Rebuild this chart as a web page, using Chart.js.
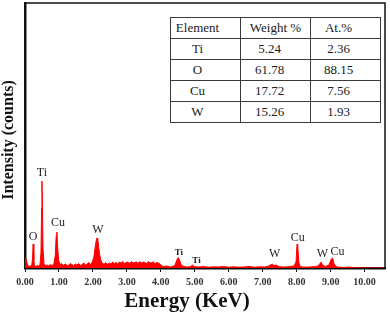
<!DOCTYPE html>
<html>
<head>
<meta charset="utf-8">
<script src="https://cdn.jsdelivr.net/npm/chart.js@4/dist/chart.umd.min.js"></script>
<style>
  body { margin: 0; background: #fff; }
  #wrap { position: relative; width: 390px; height: 316px; }
  table {
    position: absolute; left: 170px; top: 17px;
    border-collapse: collapse;
    font-family: "Liberation Serif", "DejaVu Serif", serif;
    font-size: 13px; color: #1a1a1a; background: #fff;
  }
  td { border: 1.5px solid #3a3a3a; height: 21px; padding: 0; text-align: center; }
  td.c1 { width: 70px; padding-right: 16px; box-sizing: border-box; }
  td.c2 { width: 70px; padding-right: 12px; box-sizing: border-box; }
  td.c3 { width: 70px; padding-right: 14px; box-sizing: border-box; }
  tr.head td.c2 { padding-right: 0; }
</style>
</head>
<body>
<div id="wrap">
  <canvas id="chart" width="390" height="316"></canvas>
  <table id="tbl"></table>
</div>
<script>
// EDS spectrum, energy in keV and intensity in counts
const energy = [0, 0.02, 0.05, 0.08, 0.12, 0.16, 0.20, 0.22, 0.24, 0.26, 0.28, 0.32, 0.36, 0.40, 0.44,
  0.47, 0.49, 0.50, 0.51, 0.53, 0.56, 0.60, 0.65, 0.70, 0.75, 0.80, 0.85, 0.89, 0.92, 0.94, 0.96, 0.99,
  1.03, 1.08, 1.13, 1.18, 1.23, 1.28, 1.33, 1.38, 1.43, 1.48, 1.53, 1.58, 1.63, 1.68, 1.73, 1.78, 1.83,
  1.88, 1.93, 1.98, 2.03, 2.07, 2.10, 2.12, 2.14, 2.16, 2.19, 2.23, 2.28, 2.33, 2.38, 2.43, 2.48, 2.53,
  2.58, 2.63, 2.68, 2.73, 2.78, 2.83, 2.88, 2.93, 2.98, 3.03, 3.08, 3.13, 3.18, 3.23, 3.28, 3.33, 3.38,
  3.43, 3.48, 3.53, 3.58, 3.63, 3.68, 3.73, 3.78, 3.83, 3.88, 3.93, 3.98, 4.03, 4.10, 4.18, 4.26, 4.34,
  4.42, 4.47, 4.51, 4.55, 4.60, 4.68, 4.78, 4.88, 4.93, 4.98, 5.10, 5.25, 5.40, 5.55, 5.70, 5.85, 6.00,
  6.15, 6.30, 6.45, 6.60, 6.75, 6.90, 7.05, 7.18, 7.28, 7.33, 7.38, 7.50, 7.65, 7.80, 7.92, 7.98, 8.01,
  8.03, 8.06, 8.10, 8.18, 8.30, 8.45, 8.60, 8.68, 8.72, 8.76, 8.84, 8.95, 9.02, 9.06, 9.10, 9.14, 9.20,
  9.28, 9.40, 9.55, 9.65, 9.75, 9.90, 10.0, 10.6];
const counts = [20, 100, 60, 30, 15, 20, 30, 90, 240, 80, 25, 15, 25, 20, 30,
  150, 600, 870, 700, 200, 40, 25, 30, 20, 35, 25, 40, 120, 330, 360, 220, 80,
  35, 45, 25, 40, 30, 20, 45, 35, 25, 40, 30, 45, 25, 35, 50, 30, 40,
  55, 35, 60, 110, 220, 280, 300, 290, 240, 150, 80, 45, 40, 55, 35, 50, 40,
  60, 45, 55, 40, 60, 50, 65, 45, 55, 60, 45, 65, 50, 55, 60, 45, 65,
  50, 60, 55, 45, 65, 50, 55, 60, 45, 55, 50, 40, 20, 15, 20, 10, 15,
  30, 80, 105, 80, 30, 15, 10, 15, 30, 15, 10, 15, 8, 12, 10, 15, 8,
  12, 8, 10, 15, 8, 12, 10, 20, 40, 25, 30, 12, 10, 15, 20, 60, 240,
  230, 60, 15, 10, 8, 12, 15, 40, 60, 30, 15, 30, 90, 100, 40, 25,
  10, 8, 5, 10, 5, 3, 2, 0, 0];

// x-axis ticks
const xTicks = [0, 1, 2, 3, 4, 5, 6, 7, 8, 9, 10];

// peak labels: name, energy (keV), height of the label (counts)
const peakNames = ["O", "Ti", "Cu", "W", "Ti", "Ti", "W", "Cu", "W", "Cu"];
const peakEnergy = [0.24, 0.50, 0.97, 2.15, 4.53, 5.05, 7.35, 8.03, 8.76, 9.20];
const peakLabelAt = [310, 950, 450, 380, 150, 70, 140, 300, 140, 160];

// composition table
const tableHead = ["Element", "Weight %", "At.%"];
const elements = ["Ti", "O", "Cu", "W"];
const weightPct = ["5.24", "61.78", "17.72", "15.26"];
const atomicPct = ["2.36", "88.15", "7.56", "1.93"];

const tbl = document.getElementById("tbl");
let html = '<tr class="head">' + tableHead.map((h, i) => `<td class="c${i + 1}">${h}</td>`).join("") + "</tr>";
elements.forEach((el, i) => {
  html += `<tr><td class="c1">${el}</td><td class="c2">${weightPct[i]}</td><td class="c3">${atomicPct[i]}</td></tr>`;
});
tbl.innerHTML = html;

const serif = '"Liberation Serif", "DejaVu Serif", serif';

const decorations = {
  id: "decorations",
  afterDraw(chart) {
    const { ctx, chartArea: a, scales: { x, y } } = chart;
    ctx.save();
    // top and right frame lines
    ctx.strokeStyle = "#111";
    ctx.lineWidth = 1.5;
    ctx.beginPath();
    ctx.moveTo(a.left, a.top);
    ctx.lineTo(a.right, a.top);
    ctx.lineTo(a.right, a.bottom);
    ctx.stroke();

    // peak labels
    ctx.fillStyle = "#222";
    ctx.textAlign = "center";
    ctx.textBaseline = "middle";
    peakNames.forEach((name, i) => {
      const small = i === 4 || i === 5;
      ctx.font = small ? `bold 9px ${serif}` : `12px ${serif}`;
      ctx.fillText(name, x.getPixelForValue(peakEnergy[i]), y.getPixelForValue(peakLabelAt[i]));
    });

    // axis titles
    ctx.fillStyle = "#111";
    ctx.font = `bold 21px ${serif}`;
    ctx.fillText("Energy (KeV)", a.left + (a.right - a.left) * 0.45, 302);
    ctx.translate(9, 140);
    ctx.rotate(-Math.PI / 2);
    ctx.font = `bold 16px ${serif}`;
    ctx.fillText("Intensity (counts)", 0, 0);
    ctx.restore();
  }
};

new Chart(document.getElementById("chart"), {
  type: "line",
  data: {
    datasets: [{
      data: energy.map((e, i) => ({ x: e, y: counts[i] })),
      borderColor: "#ff0000",
      backgroundColor: "#ff0000",
      borderWidth: 1,
      fill: "origin",
      pointRadius: 0,
      tension: 0
    }]
  },
  options: {
    responsive: false,
    animation: false,
    layout: { padding: { top: 3, right: 5, left: 0, bottom: 0 } },
    plugins: { legend: { display: false }, tooltip: { enabled: false } },
    scales: {
      x: {
        type: "linear",
        min: 0,
        max: 10.6,
        afterBuildTicks: (s) => { s.ticks = xTicks.map((v) => ({ value: v })); },
        afterFit: (s) => { s.height = 48; },
        border: { display: true, color: "#111", width: 2.5 },
        grid: { drawOnChartArea: false, drawTicks: true, tickLength: 4, color: "#111" },
        ticks: {
          padding: 4,
          color: "#333",
          maxRotation: 0,
          autoSkip: false,
          font: { family: serif, size: 10, weight: "bold" },
          callback: (v) => v.toFixed(2)
        }
      },
      y: {
        min: 0,
        max: 2650,
        afterFit: (s) => { s.width = 25; },
        border: { display: true, color: "#111", width: 2.5 },
        grid: { display: false },
        ticks: { display: false }
      }
    }
  },
  plugins: [decorations]
});
</script>
</body>
</html>
